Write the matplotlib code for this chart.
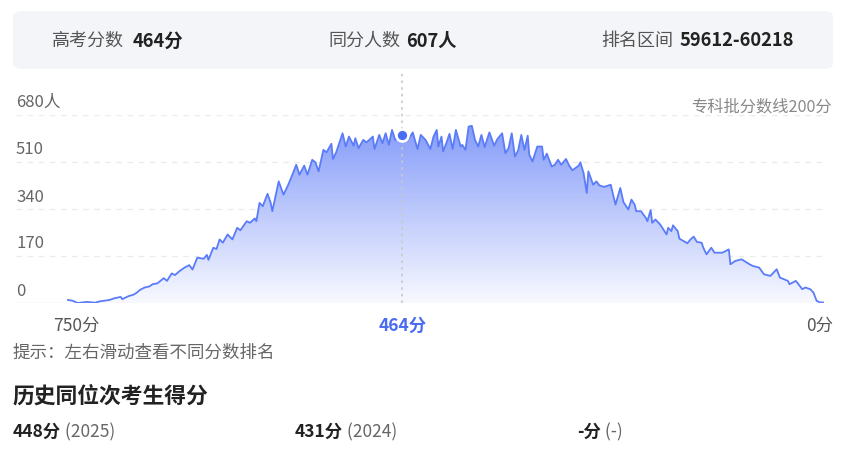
import numpy as np
import matplotlib
matplotlib.use("Agg")
import matplotlib.pyplot as plt
from matplotlib.patches import FancyBboxPatch, Polygon

plt.rcParams['font.family'] = ['Noto Sans CJK SC', 'DejaVu Sans']

# score -> number of candidates
scores = [673, 670, 667, 661, 656, 653, 647, 644, 640, 639, 635, 632, 630, 628, 625, 622, 620, 617,
          613, 611, 608, 606, 603, 600, 597, 595, 592, 588, 586, 585, 582, 580, 578, 576, 573, 570,
          567, 565, 561, 559, 556, 555, 553, 551, 548, 546, 545, 541, 538, 535, 533, 530, 528, 525,
          523, 520, 518, 516, 513, 511, 508, 507, 505, 501, 499, 497, 494, 493, 491, 488, 486, 482,
          481, 478, 476, 474, 472, 470, 468, 464, 460, 457, 456, 454, 452, 449, 446, 444, 442, 441,
          439, 438, 436, 434, 432, 430, 427, 426, 424, 422, 420, 418, 416, 414, 412, 409, 406, 404,
          401, 399, 397, 395, 393, 391, 389, 387, 385, 384, 382, 379, 376, 375, 373, 370, 368, 366,
          364, 361, 359, 357, 353, 352, 350, 348, 347, 344, 342, 340, 337, 333, 330, 327, 325, 322,
          320, 318, 317, 314, 311, 310, 308, 307, 305, 302, 298, 297, 295, 294, 291, 290, 285, 283,
          281, 279, 276, 275, 273, 270, 268, 263, 259, 258, 255, 251, 246, 244, 240, 237, 233, 229,
          227, 222, 221, 217, 213, 211, 208, 206, 204, 202, 200]
counts = [11, 8, 0, 4, 1, 6, 11, 17, 22, 14, 25, 30, 37, 47, 56, 60, 68, 71,
          90, 80, 107, 101, 116, 128, 137, 121, 164, 160, 174, 156, 200, 195, 230, 218, 248, 230,
          272, 263, 296, 290, 306, 296, 362, 350, 395, 362, 332, 440, 392, 428, 456, 500, 464, 497,
          464, 518, 509, 476, 554, 545, 576, 521, 545, 614, 566, 602, 569, 596, 560, 590, 581, 602,
          557, 608, 578, 614, 572, 626, 590, 607, 590, 617, 596, 557, 608, 590, 557, 602, 626, 566,
          602, 548, 578, 612, 557, 626, 566, 572, 554, 638, 641, 590, 566, 608, 564, 617, 569, 593,
          614, 542, 560, 614, 530, 552, 608, 554, 605, 536, 512, 566, 566, 518, 540, 494, 500, 518,
          500, 521, 497, 480, 497, 509, 470, 398, 476, 428, 440, 425, 420, 428, 356, 416, 365, 338,
          374, 356, 332, 332, 308, 296, 336, 290, 302, 284, 248, 272, 260, 281, 260, 233, 216, 230,
          240, 221, 218, 200, 176, 200, 182, 182, 194, 140, 152, 158, 140, 134, 128, 104, 98, 122,
          92, 80, 68, 80, 50, 56, 50, 38, 8, 2, 2]

my_score = 464
my_count = 607
y_ticks = [0, 170, 340, 510, 680]

W, H = 843, 456
fig = plt.figure(figsize=(W / 100, H / 100), dpi=100)


def fx(x):
    return x / W


def fy(y):
    return 1 - y / H


# header box
fig.patches.append(FancyBboxPatch((fx(13), fy(70)), fx(820), (58) / H,
                                  boxstyle="round,pad=0,rounding_size=0.012",
                                  transform=fig.transFigure, facecolor='#f4f5f9',
                                  edgecolor='none', zorder=0))
head = [(52, '高考分数', 133, '464分'), (328, '同分人数', 406, '607人'), (601, '排名区间', 680, '59612-60218')]
for x1, lab, x2, val in head:
    fig.text(fx(x1), fy(41), lab, fontsize=13, color='#555555', va='center')
    fig.text(fx(x2), fy(41), val, fontsize=13.2, color='#222222', va='center', fontweight='bold')

# chart axes: left edge 16px, right edge 826px; 673 at 68px, 200 at 823px
pps = (823 - 68) / (673 - 200)
ax = fig.add_axes([fx(16), fy(304), (826 - 16) / W, (304 - 116) / H])
xlim = (673 + (68 - 16) / pps, 200 - (826 - 823) / pps)
for s in ax.spines.values():
    s.set_visible(False)
ax.set_xticks([])
ax.set_yticks([])
for t in y_ticks[1:]:
    ax.axhline(t, color='#ebebeb', lw=1, ls=(0, (4, 4)), zorder=1)
ax.axhline(0, color='#e6e6e6', lw=1, zorder=1)

xs = np.array(scores, dtype=float)
ys = np.array(counts, dtype=float)

# gradient fill under the curve
grad = np.linspace(0, 1, 256).reshape(-1, 1)
c_top = np.array([0x84, 0x9b, 0xf9]) / 255
c_bot = np.array([0xf8, 0xf9, 0xff]) / 255
img = (c_bot + (c_top - c_bot) * grad).reshape(256, 1, 3)
im = ax.imshow(img, extent=[xs[0], xs[-1], 0, 650], origin='lower', aspect='auto', zorder=2)
poly = Polygon(np.column_stack([np.r_[xs, xs[-1], xs[0]], np.r_[ys, 0, 0]]),
               closed=True, facecolor='none', edgecolor='none')
ax.add_patch(poly)
im.set_clip_path(poly)
ax.set_xlim(*xlim)
ax.set_ylim(0, 680)

ax.plot(xs, ys, color='#5a7cf9', lw=1.3, zorder=3)

# marker and dotted guide line
ax.plot([my_score, my_score], [0, 680 + 44 * 680 / 188], color='#c8c8c8', lw=1.2,
        ls=(0, (1.5, 2.5)), zorder=2, clip_on=False)
ax.scatter([my_score], [my_count], s=90, color='white', zorder=4)
ax.scatter([my_score], [my_count], s=32, color='#4a6cf0', zorder=5)

# y labels
for t, yp in zip(y_ticks, [291, 243, 197, 150, 102]):
    lab = f'{t}人' if t == y_ticks[-1] else str(t)
    fig.text(fx(16), fy(yp), lab, fontsize=12, color='#666666', va='center')
fig.text(fx(832), fy(107), '专科批分数线200分', fontsize=11.7, color='#888888', va='center', ha='right')

# x labels
fig.text(fx(76), fy(326), '750分', fontsize=12.5, color='#555555', va='center', ha='center')
fig.text(fx(403), fy(326), '464分', fontsize=12.5, color='#4a6cf0', va='center', ha='center',
         fontweight='bold')
fig.text(fx(820), fy(326), '0分', fontsize=12.5, color='#555555', va='center', ha='center')

fig.text(fx(13), fy(353), '提示：左右滑动查看不同分数排名', fontsize=12.6, color='#666666', va='center')
fig.text(fx(13), fy(397), '历史同位次考生得分', fontsize=15.7, color='#222222', va='center',
         fontweight='bold')

hist = [(13, '448分', ' (2025)'), (295, '431分', ' (2024)'), (577, '-分', ' (-)')]
for x, a, b in hist:
    t = fig.text(fx(x), fy(432), a, fontsize=12.5, color='#222222', va='center', fontweight='bold')
    fig.canvas.draw()
    bb = t.get_window_extent()
    fig.text(bb.x1 / W, fy(432), b, fontsize=12.5, color='#666666', va='center')

fig.savefig('out.png', dpi=100, facecolor='white')
